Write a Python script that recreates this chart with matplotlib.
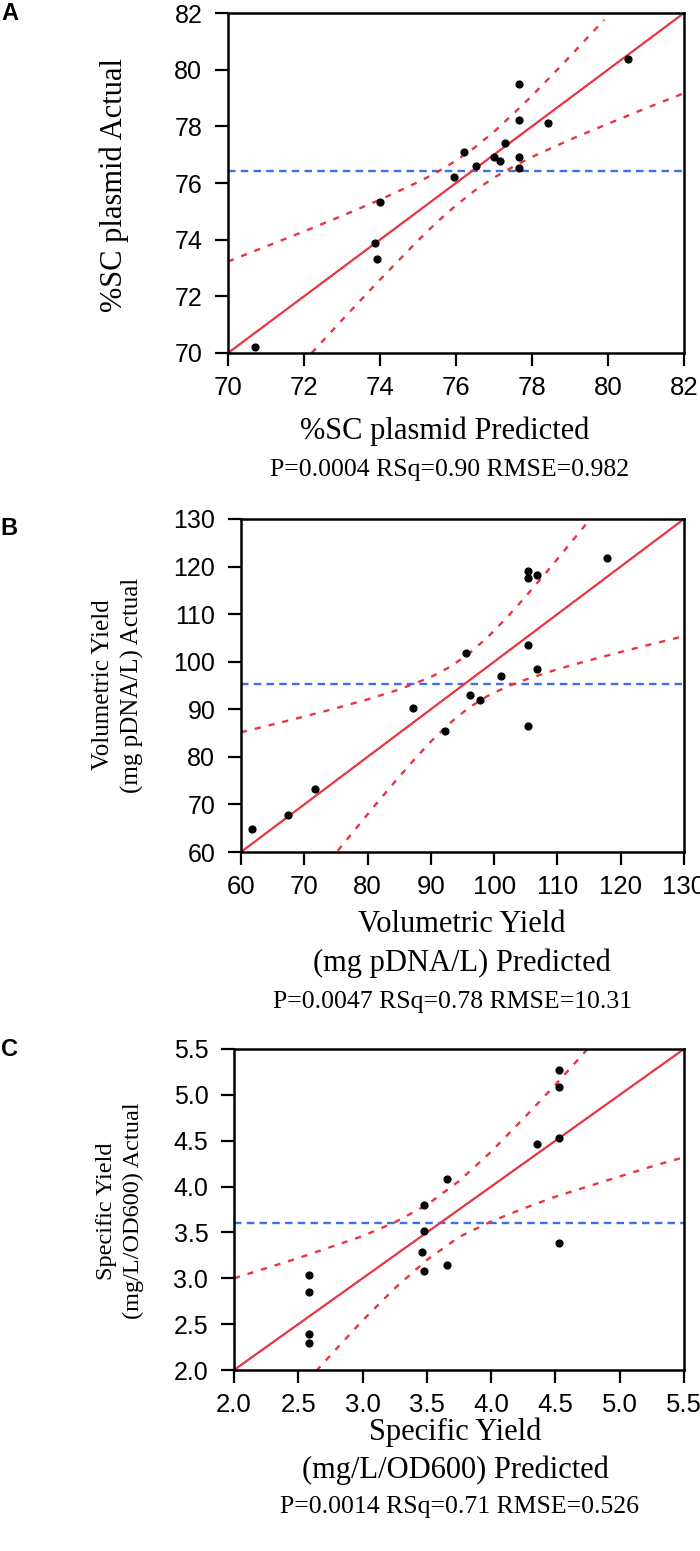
import matplotlib
matplotlib.use("Agg")
import matplotlib.pyplot as plt

# ---------------------------------------------------------------------------
# Panel A : %SC plasmid
a_pred = [70.70, 73.87, 73.93, 73.99, 75.96, 76.21, 76.52, 76.99, 77.16, 77.29,
          77.65, 77.65, 77.65, 77.65, 78.42, 80.53]
a_actual = [70.20, 73.88, 73.31, 75.33, 76.20, 77.09, 76.60, 76.93, 76.77, 77.41,
            79.49, 78.21, 76.93, 76.52, 78.12, 80.38]
a_mean = 76.42
a_fit = [70, 82]
a_up_x = [70, 71, 72, 73, 74, 75, 75.5, 76, 76.5, 77, 77.5, 78, 78.5, 79, 79.5, 79.9]
a_up_y = [73.23, 73.76, 74.29, 74.84, 75.41, 76.03, 76.38, 76.79, 77.26, 77.81,
          78.43, 79.08, 79.77, 80.47, 81.19, 81.76]
a_lo_x = [72.2, 73, 74, 75, 75.5, 76, 76.5, 77, 77.5, 78, 79, 80, 81, 82]
a_lo_y = [70.00, 71.16, 72.59, 73.97, 74.62, 75.21, 75.74, 76.19, 76.57, 76.92,
          77.53, 78.09, 78.64, 79.17]
a_ticks = [70, 72, 74, 76, 78, 80, 82]

# Panel B : volumetric yield
b_pred = [61.8, 67.5, 71.7, 87.1, 92.3, 95.5, 96.2, 97.7, 101.1, 105.3,
          105.3, 106.8, 105.3, 106.7, 105.3, 117.9]
b_actual = [64.9, 67.7, 73.3, 90.2, 85.5, 101.8, 92.9, 92.0, 97.1, 119.1,
            117.7, 118.2, 103.6, 98.5, 86.5, 121.9]
b_mean = 95.4
b_fit = [60, 130]
b_up_x = [60, 65, 70, 75, 80, 85, 90, 93, 96, 99, 102, 105, 108, 111, 114.5]
b_up_y = [85.17, 86.81, 88.48, 90.22, 92.08, 94.16, 96.78, 98.90, 101.67, 105.18,
          109.27, 113.73, 118.40, 123.20, 128.89]
b_lo_x = [75.3, 78, 81, 84, 87, 90, 93, 96, 99, 102, 105, 110, 115, 120, 125, 130]
b_lo_y = [60.27, 64.68, 69.53, 74.28, 78.88, 83.22, 87.10, 90.33, 92.82, 94.73,
          96.27, 98.41, 100.29, 102.04, 103.73, 105.37]
b_ticks = [60, 70, 80, 90, 100, 110, 120, 130]

# Panel C : specific yield
c_pred = [2.58, 2.58, 2.58, 2.58, 3.48, 3.48, 3.46, 3.48, 3.66, 3.66,
          4.36, 4.53, 4.53, 4.53, 4.53]
c_actual = [3.04, 2.85, 2.39, 2.29, 3.80, 3.52, 3.29, 3.08, 4.08, 3.15,
            4.46, 5.27, 5.09, 4.53, 3.39]
c_mean = 3.60
c_fit = [2.0, 5.5]
c_up_x = [2.0, 2.25, 2.5, 2.75, 3.0, 3.25, 3.5, 3.75, 4.0, 4.25, 4.5, 4.75]
c_up_y = [3.00, 3.11, 3.22, 3.34, 3.46, 3.61, 3.80, 4.06, 4.38, 4.74, 5.11, 5.50]
c_lo_x = [2.64, 2.75, 3.0, 3.25, 3.5, 3.75, 4.0, 4.25, 4.5, 4.75, 5.0, 5.25, 5.5]
c_lo_y = [1.99, 2.16, 2.54, 2.89, 3.20, 3.45, 3.62, 3.76, 3.89, 4.00, 4.11, 4.22, 4.32]
c_ticks = [2.0, 2.5, 3.0, 3.5, 4.0, 4.5, 5.0, 5.5]

W, H = 700, 1551
RED = "#ec3342"
BLUE = "#3b6ff0"
SERIF = "Liberation Serif"
SANS = "Liberation Sans"


def fx(px):
    return px / W


def fy(py):
    return 1 - py / H


#-----------------------------------------------------------------------------
def panel(fig, box, pred, actual, mean, fit, up, lo, ticks, fmt):
    left, top, right, bottom = box
    ax = fig.add_axes([fx(left), fy(bottom), (right - left) / W, (bottom - top) / H])
    ax.plot(fit, fit, color=RED, lw=1.6, zorder=2)
    ax.plot(up[0], up[1], color=RED, lw=1.7, ls=(0, (2.6, 3.4)), zorder=2)
    ax.plot(lo[0], lo[1], color=RED, lw=1.7, ls=(0, (2.6, 3.4)), zorder=2)
    ax.axhline(mean, color=BLUE, lw=1.7, ls=(0, (3.2, 2.2)), zorder=1)
    ax.plot(pred, actual, "o", color="black", ms=4.9, zorder=3)

    ax.set_xlim(ticks[0], ticks[-1])
    ax.set_ylim(ticks[0], ticks[-1])
    ax.set_xticks(ticks)
    ax.set_yticks(ticks)
    ax.set_xticklabels([fmt.format(t) for t in ticks], family=SANS, fontsize=18.5)
    ax.set_yticklabels([fmt.format(t) for t in ticks], family=SANS, fontsize=18)
    ax.tick_params(direction="out", length=9.5, width=1.6, top=False, right=False)
    ax.tick_params(axis="x", pad=7)
    ax.tick_params(axis="y", pad=9)
    for s in ax.spines.values():
        s.set_linewidth(1.8)
    return ax


fig = plt.figure(figsize=(W / 100, H / 100), dpi=100)

# A
panel(fig, (228, 13, 684, 353), a_pred, a_actual, a_mean, a_fit,
      (a_up_x, a_up_y), (a_lo_x, a_lo_y), a_ticks, "{:.0f}")
fig.text(fx(10), fy(14), "A", family=SANS, weight="bold", fontsize=17,
         ha="center", va="center")
fig.text(fx(114), fy(185), "%SC plasmid Actual", family=SERIF, fontsize=22,
         rotation=90, ha="center", va="center")
fig.text(fx(445), fy(431), "%SC plasmid Predicted", family=SERIF, fontsize=22,
         ha="center", va="center")
fig.text(fx(450), fy(470), "P=0.0004 RSq=0.90 RMSE=0.982", family=SERIF,
         fontsize=18.5, ha="center", va="center")

# B
panel(fig, (241, 519, 684, 852), b_pred, b_actual, b_mean, b_fit,
      (b_up_x, b_up_y), (b_lo_x, b_lo_y), b_ticks, "{:.0f}")
fig.text(fx(9), fy(528), "B", family=SANS, weight="bold", fontsize=17,
         ha="center", va="center")
fig.text(fx(118), fy(685), "Volumetric Yield\n(mg pDNA/L) Actual", family=SERIF,
         fontsize=18, rotation=90, ha="center", va="center", linespacing=1.4)
fig.text(fx(462), fy(925), "Volumetric Yield", family=SERIF, fontsize=22,
         ha="center", va="center")
fig.text(fx(462), fy(963), "(mg pDNA/L) Predicted", family=SERIF, fontsize=22,
         ha="center", va="center")
fig.text(fx(453), fy(1002), "P=0.0047 RSq=0.78 RMSE=10.31", family=SERIF,
         fontsize=18.5, ha="center", va="center")

# C
panel(fig, (234, 1049, 684, 1370), c_pred, c_actual, c_mean, c_fit,
      (c_up_x, c_up_y), (c_lo_x, c_lo_y), c_ticks, "{:.1f}")
fig.text(fx(9), fy(1050), "C", family=SANS, weight="bold", fontsize=17,
         ha="center", va="center")
fig.text(fx(120), fy(1211), "Specific Yield\n(mg/L/OD600) Actual", family=SERIF,
         fontsize=17.5, rotation=90, ha="center", va="center", linespacing=1.4)
fig.text(fx(455), fy(1432), "Specific Yield", family=SERIF, fontsize=22,
         ha="center", va="center")
fig.text(fx(455), fy(1470), "(mg/L/OD600) Predicted", family=SERIF, fontsize=22,
         ha="center", va="center")
fig.text(fx(460), fy(1507), "P=0.0014 RSq=0.71 RMSE=0.526", family=SERIF,
         fontsize=18.5, ha="center", va="center")

fig.savefig("out.png", dpi=100)
